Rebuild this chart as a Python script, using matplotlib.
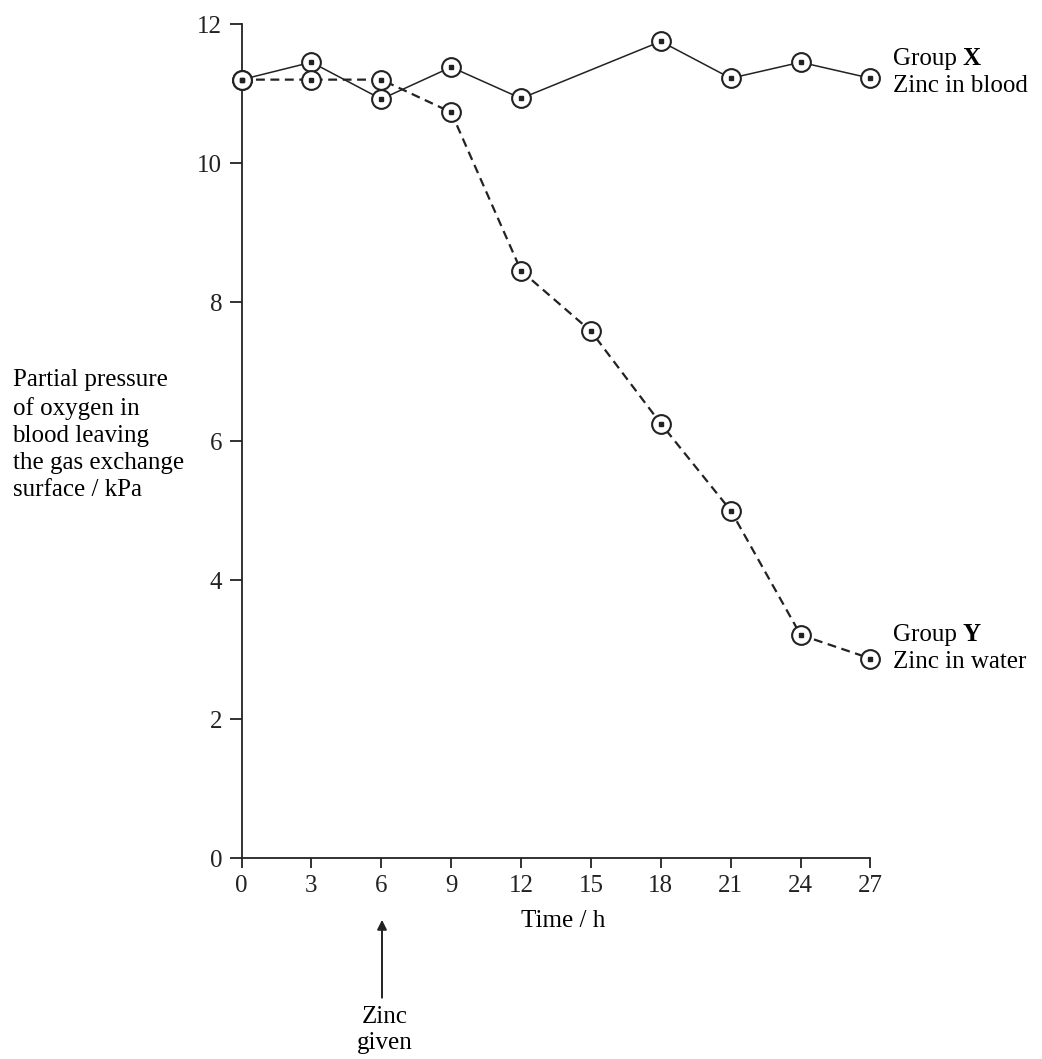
import matplotlib.pyplot as plt

plt.rcParams['font.family'] = ['Liberation Serif', 'DejaVu Serif']

# group X: zinc in blood (solid line)
time_x = [0, 3, 6, 9, 12, 18, 21, 24, 27]
po2_x = [11.2, 11.45, 10.92, 11.38, 10.93, 11.75, 11.22, 11.45, 11.22]

# group Y: zinc in water (dashed line)
time_y = [0, 3, 6, 9, 12, 15, 18, 21, 24, 27]
po2_y = [11.2, 11.2, 11.2, 10.73, 8.45, 7.58, 6.25, 5.0, 3.21, 2.87]

xticks = [0, 3, 6, 9, 12, 15, 18, 21, 24, 27]
yticks = [0, 2, 4, 6, 8, 10, 12]

fs = 18
ink = '#222222'

fig = plt.figure(figsize=(10.42, 10.59), dpi=100)
ax = fig.add_axes([0.2318, 0.1898, 0.6036, 0.7875])

ax.plot(time_y, po2_y, color=ink, lw=1.6, dashes=(4, 2.5), zorder=2)
ax.plot(time_x, po2_x, color=ink, lw=1.1, zorder=2)

for t, p in [(time_x, po2_x), (time_y, po2_y)]:
    ax.plot(t, p, ls='none', marker='o', ms=13.5, mfc='white', mec=ink, mew=1.5,
            zorder=3, clip_on=False)
    ax.plot(t, p, ls='none', marker='s', ms=2.6, mfc=ink, mec=ink, zorder=4, clip_on=False)

ax.set_xlim(0, 27)
ax.set_ylim(0, 12)
ax.set_xticks(xticks)
ax.set_yticks(yticks)
ax.spines['top'].set_visible(False)
ax.spines['right'].set_visible(False)
for s in ['left', 'bottom']:
    ax.spines[s].set_linewidth(1.3)
    ax.spines[s].set_color(ink)
ax.tick_params(direction='out', width=1.3, colors=ink, labelsize=fs)
ax.tick_params(axis='y', length=9, pad=5)
ax.tick_params(axis='x', length=7, pad=5)

ax.set_xlabel('Time / h', fontsize=fs)
ax.xaxis.set_label_coords(0.511, -0.0755)
ax.xaxis.label.set_va('center')

fig.text(0.012, 1 - 435 / 1059, 'Partial pressure\nof oxygen in\nblood leaving\nthe gas exchange\nsurface / kPa',
         fontsize=fs, ha='left', va='center', linespacing=1.3)

# group labels
gx = ax.text(27.95, 11.5, 'Group ', fontsize=fs, va='center', ha='left', clip_on=False)
ax.annotate('X', xy=(1, 0), xycoords=gx, va='bottom', ha='left', fontsize=fs, weight='bold')
ax.text(27.95, 11.11, 'Zinc in blood', fontsize=fs, va='center', ha='left', clip_on=False)

gy = ax.text(27.95, 3.21, 'Group ', fontsize=fs, va='center', ha='left', clip_on=False)
ax.annotate('Y', xy=(1, 0), xycoords=gy, va='bottom', ha='left', fontsize=fs, weight='bold')
ax.text(27.95, 2.82, 'Zinc in water', fontsize=fs, va='center', ha='left', clip_on=False)

# zinc given arrow
ax.annotate('', xy=(6.03, -0.89), xytext=(6.03, -2.01), xycoords='data',
            arrowprops=dict(arrowstyle='-|>', color=ink, lw=1.4, mutation_scale=14,
                            shrinkA=0, shrinkB=0),
            annotation_clip=False)
ax.text(6.16, -2.48, 'Zinc\ngiven', fontsize=fs, ha='center', va='center', linespacing=1.25,
        clip_on=False)

fig.savefig('out.png', dpi=100)
